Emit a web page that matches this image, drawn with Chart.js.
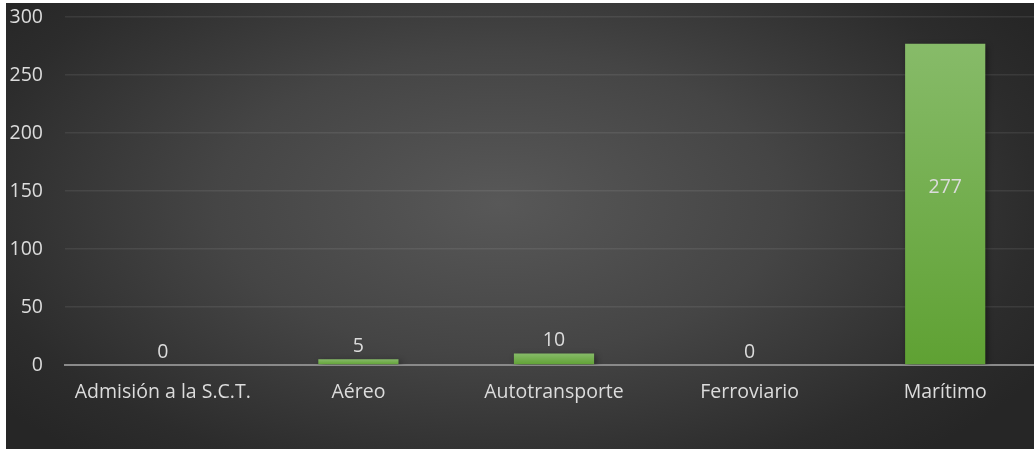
<!DOCTYPE html>
<html>
<head>
<meta charset="utf-8">
<script src="https://cdn.jsdelivr.net/npm/chart.js@4"></script>
<style>
  html, body { margin: 0; padding: 0; background: #fff; overflow: hidden; width: 1034px; height: 450px; }
  #frame {
    position: absolute; left: 6px; top: 3px; width: 1050px; height: 446px;
    background: radial-gradient(ellipse 60% 75% at 47% 45%, #585858 0%, #454545 45%, #2c2c2c 85%, #262626 100%);
  }
  #frame canvas { display: block; }
</style>
</head>
<body>
<div id="frame"><canvas id="chart" width="1050" height="446"></canvas></div>
<script>
(function () {
    'use strict';

    const categories = ['Admisión a la S.C.T.', 'Aéreo', 'Autotransporte', 'Ferroviario', 'Marítimo'];
    const values = [0, 5, 10, 0, 277];
    const yTicks = [0, 50, 100, 150, 200, 250, 300];

    const textColor = '#dcdcdc';
    const fontFamily = '"Open Sans", "Noto Sans", sans-serif';
    const fontSize = 19.5;

    // bar labels: above the bar, or inside for the tall one
    const labelPlugin = {
        id: 'barLabels',
        afterDatasetsDraw(chart) {
            const ctx = chart.ctx;
            const meta = chart.getDatasetMeta(0);
            ctx.save();
            ctx.fillStyle = textColor;
            ctx.font = fontSize + 'px ' + fontFamily;
            ctx.textAlign = 'center';
            ctx.textBaseline = 'alphabetic';
            meta.data.forEach((bar, i) => {
                const v = values[i];
                let y;
                if (v > 100) {
                    y = bar.y + (bar.base - bar.y) * 0.465;
                } else {
                    y = bar.y - 7;
                }
                ctx.fillText(String(v), bar.x, y);
            });
            ctx.restore();
        },
    };

    const shadowPlugin = {
        id: 'barShadow',
        beforeDatasetsDraw(chart) {
            const ctx = chart.ctx;
            ctx.save();
            ctx.shadowColor = 'rgba(0,0,0,0.45)';
            ctx.shadowBlur = 6;
            ctx.shadowOffsetX = 2;
            ctx.shadowOffsetY = 2;
        },
        afterDatasetsDraw(chart) {
            chart.ctx.restore();
        },
    };

    // each bar gets its own top-to-bottom gradient, like the office fill
    function barGradient(context) {
        const chart = context.chart;
        const y = chart.scales && chart.scales.y;
        if (!chart.chartArea || !y) return '#70ad47';
        const top = y.getPixelForValue(context.raw);
        const base = y.getPixelForValue(0);
        if (!(base - top > 0.5)) return '#70ad47';
        const g = chart.ctx.createLinearGradient(0, top, 0, base);
        g.addColorStop(0, '#87bb69');
        g.addColorStop(1, '#5fa133');
        return g;
    }

    new Chart(document.getElementById('chart'), {
        type: 'bar',
        data: {
            labels: categories,
            datasets: [{
                data: values,
                backgroundColor: barGradient,
                borderWidth: 0,
                categoryPercentage: 1,
                barPercentage: 0.41,
            }],
        },
        options: {
            responsive: false,
            animation: false,
            layout: { padding: { left: 0, right: 13, top: 14, bottom: 0 } },
            plugins: {
                legend: { display: false },
                tooltip: { enabled: false },
            },
            scales: {
                x: {
                    afterFit: (axis) => {
                        axis.height = 84;
                        axis.paddingLeft = 0;
                        axis.paddingRight = 0;
                    },
                    grid: { display: false, drawTicks: false },
                    border: { display: true, color: '#8a8a8a', width: 2 },
                    ticks: {
                        color: textColor,
                        font: { family: fontFamily, size: fontSize },
                        padding: 16,
                        maxRotation: 0,
                    },
                },
                y: {
                    min: 0,
                    max: 300,
                    afterBuildTicks: (axis) => { axis.ticks = yTicks.map((v) => ({ value: v })); },
                    afterFit: (axis) => {
                        axis.width = 59;
                        axis.paddingTop = 0;
                        axis.paddingBottom = 0;
                    },
                    grid: { color: 'rgba(255,255,255,0.08)', lineWidth: 1.5, drawTicks: false },
                    border: { display: false },
                    ticks: {
                        color: textColor,
                        font: { family: fontFamily, size: fontSize },
                        padding: 22,
                    },
                },
            },
        },
        plugins: [shadowPlugin, labelPlugin],
    });
})();
</script>
</body>
</html>
